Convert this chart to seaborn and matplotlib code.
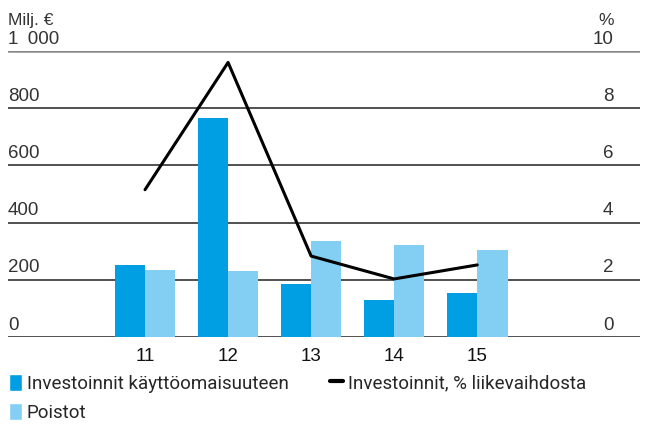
import pandas as pd
import matplotlib
matplotlib.use("Agg")
from matplotlib import pyplot as plt
from matplotlib.patches import Patch
from matplotlib.lines import Line2D
import matplotlib.transforms as mtransforms
import seaborn as sns

years = ["11", "12", "13", "14", "15"]
investoinnit = [252, 766, 185, 129, 154]
poistot = [234, 231, 336, 322, 304]
osuus = [5.15, 9.6, 2.83, 2.03, 2.52]
left_ticks = [0, 200, 400, 600, 800, 1000]
left_labels = ["0", "200", "400", "600", "800", "1\u2002000"]
right_labels = ["0", "2", "4", "6", "8", "10"]

dark = "#009FE3"
light = "#83CFF4"

sns.set_style("white")
plt.rcParams["font.family"] = ["Liberation Sans", "DejaVu Sans"]

df = pd.DataFrame({
    "Vuosi": years * 2,
    "Arvo": investoinnit + poistot,
    "Sarja": ["Investoinnit käyttöomaisuuteen"] * 5 + ["Poistot"] * 5,
})

fig = plt.figure(figsize=(6.46, 4.24), dpi=100)
ax = fig.add_axes([8 / 646, 1 - 337 / 424, 632 / 646, 286 / 424])
sns.barplot(ax=ax, data=df, x="Vuosi", y="Arvo", hue="Sarja",
            palette=[dark, light], width=0.73, saturation=1, legend=False,
            linewidth=0, edgecolor="none")
ax.set_xlim(-1.65, 5.96)
ax.set_ylim(0, 1000)

ax2 = ax.twinx()
sns.lineplot(ax=ax2, x=list(range(5)), y=osuus, color="black", linewidth=2.2)
ax2.set_ylim(0, 10)

for a in (ax, ax2):
    for s in a.spines.values():
        s.set_visible(False)
    a.set_yticks([])
    a.set_ylabel("")
ax.set_xlabel("")
ax.tick_params(axis="x", length=0, labelsize=13.5, pad=8, labelcolor="#111111")

for v in left_ticks:
    col = "#888888" if v == 1000 else "#222222"
    lw = 1.8 if v == 1000 else 1.1
    ax.axhline(v, color=col, linewidth=lw, zorder=0.5)

trans = mtransforms.blended_transform_factory(ax.transAxes, ax.transData)
for v, l1, l2 in zip(left_ticks, left_labels, right_labels):
    ax.text(0.0, v + 12, l1, transform=trans, ha="left", va="bottom",
            fontsize=13.5, color="#333333")
    ax.text(0.958, v + 12, l2, transform=trans, ha="right", va="bottom",
            fontsize=13.5, color="#333333")
ax.text(0.0, 1080, "Milj. €", transform=trans, ha="left", va="bottom",
        fontsize=12.5, color="#333333", clip_on=False)
ax.text(0.958, 1080, "%", transform=trans, ha="right", va="bottom",
        fontsize=12.5, color="#333333", clip_on=False)

handles = [
    Patch(facecolor=dark, label="Investoinnit käyttöomaisuuteen"),
    Patch(facecolor=light, label="Poistot"),
    Line2D([0], [0], color="black", linewidth=3, label="Investoinnit, % liikevaihdosta"),
]
fig.legend(handles=handles, ncol=2, loc="upper left", bbox_to_anchor=(0.014, 0.118),
           frameon=False, handlelength=0.7, handleheight=1.0,
           handletextpad=0.25, columnspacing=2.2, labelspacing=0.55,
           borderaxespad=0, borderpad=0, prop={"family": "Roboto", "size": 13.5})

fig.savefig("out.png", dpi=100)
